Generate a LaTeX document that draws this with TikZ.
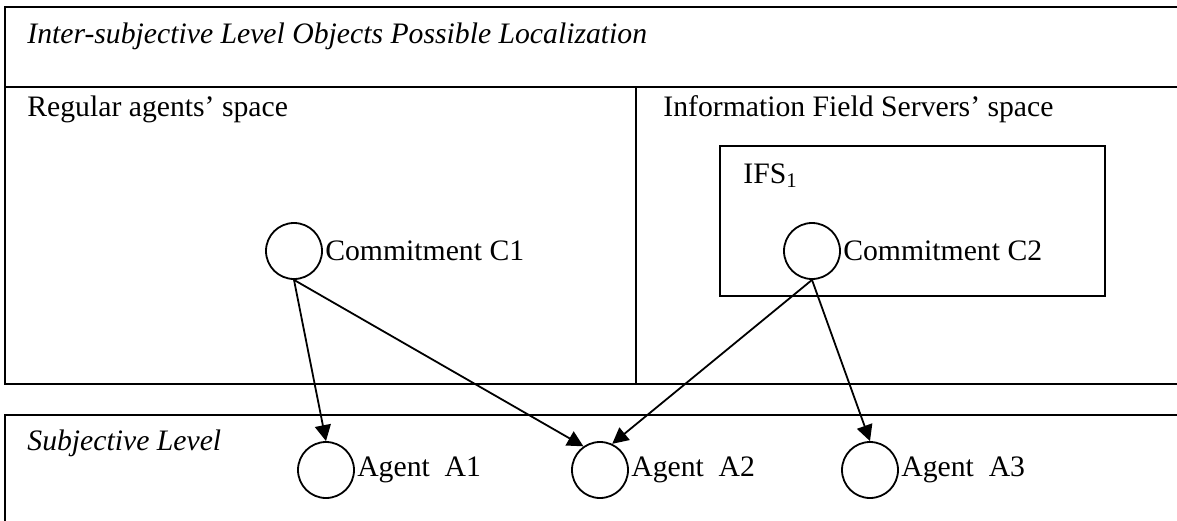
\documentclass[tikz,border=0pt]{standalone}
\usepackage{fontspec}
\setmainfont{Liberation Serif}
\usetikzlibrary{positioning,arrows.meta}

\begin{document}
\begin{tikzpicture}[x=0.5pt,y=-0.5pt,
	>={Triangle[length=8pt,width=8pt]},
	every node/.style={inner sep=0pt,font=\fontsize{14.85}{18}\selectfont},
	blob/.style={draw,circle,line width=0.9pt,minimum size=28pt}]
	\clip (0,0) rectangle (1177,520);

	% inter-subjective level
	\draw[line width=1pt] (5,7) rectangle (1200,384);
	\draw[line width=1pt] (5,87)--(1200,87);
	\draw[line width=1pt] (636,87)--(636,384);
	\draw[line width=1pt] (720,146) rectangle (1105,296);
	\node[anchor=base west] (title) at (27,43) {\itshape Inter-subjective Level Objects Possible Localization};
	\node[anchor=base west] (regular) at (27,116) {Regular agents' space};
	\node[anchor=base west] (servers) at (663,116) {Information Field Servers' space};
	\node[anchor=base west] (ifs) at (743,183) {IFS\textsubscript{1}};

	\node[blob] (c1) at (294,251) {};
	\node[right=1pt of c1] (c1txt) {Commitment C1};
	\node[blob] (c2) at (812,251) {};
	\node[right=1pt of c2] (c2txt) {Commitment C2};

	% subjective level
	\draw[line width=1pt] (5,415) rectangle (1200,560);
	\node[anchor=base west] (subj) at (27,450) {\itshape Subjective Level};

	\node[blob] (a1) at (326,470) {};
	\node[right=1pt of a1] (a1txt) {Agent\ \ A1};
	\node[blob] (a2) at (600,470) {};
	\node[right=1pt of a2] (a2txt) {Agent\ \ A2};
	\node[blob] (a3) at (870,470) {};
	\node[right=1pt of a3] (a3txt) {Agent\ \ A3};

	\draw[->,line width=0.9pt] (c1.south)--(a1.north);
	\draw[->,line width=0.9pt] (c1.south)--(a2.125);
	\draw[->,line width=0.9pt] (c2.south)--(a2.65);
	\draw[->,line width=0.9pt] (c2.south)--(a3.north);
\end{tikzpicture}
\end{document}
